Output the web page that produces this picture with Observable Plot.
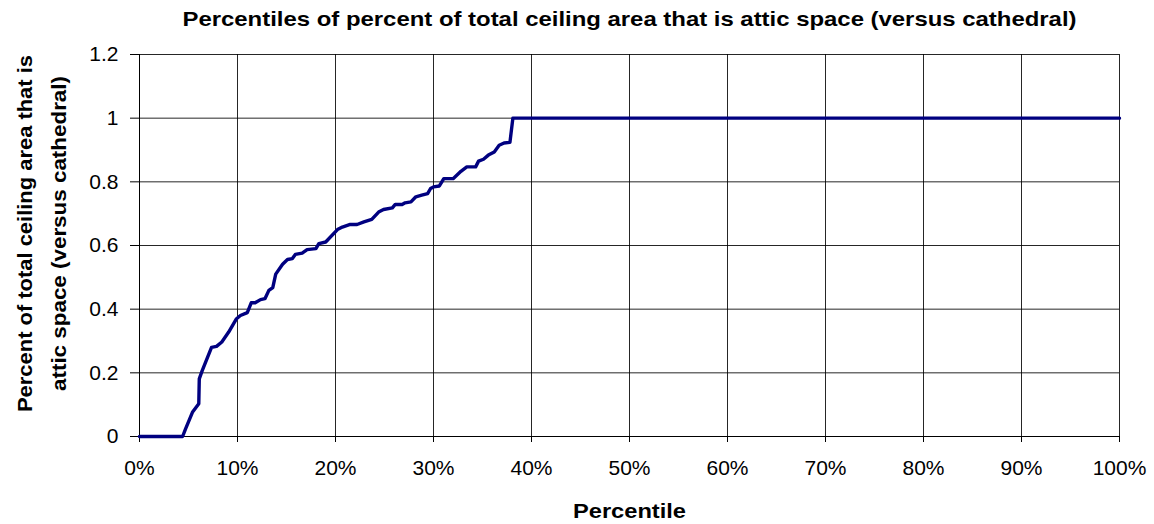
<!DOCTYPE html>
<html>
<head>
<meta charset="utf-8">
<script src="https://cdn.jsdelivr.net/npm/d3@7"></script>
<script src="https://cdn.jsdelivr.net/npm/@observablehq/plot@0.6"></script>
<style>
  html, body { margin: 0; padding: 0; background: #fff; }
  #chart svg { display: block; }
</style>
</head>
<body>
<div id="chart"></div>
<script>
const titleText = "Percentiles of percent of total ceiling area that is attic space (versus cathedral)";
const xLabel = "Percentile";
const yLabelLines = ["Percent of total ceiling area that is", "attic space (versus cathedral)"];

// percentile (%) and value pairs
const percentiles = [0, 4.4, 4.7, 5.4, 6.05, 6.1, 6.4, 7.35, 7.86, 8.4, 9.1, 9.9, 10.3, 11.0, 11.4, 11.8, 12.35, 12.8, 13.2, 13.6, 13.9, 14.6, 15.1, 15.6, 15.9, 16.6, 17.1, 18.0, 18.3, 19.0, 20.2, 20.7, 21.5, 22.2, 22.9, 23.7, 24.4, 24.9, 25.8, 26.1, 26.8, 27.1, 27.7, 28.2, 28.8, 29.4, 29.7, 30.0, 30.6, 31.05, 32.0, 32.8, 33.4, 34.3, 34.6, 35.1, 35.6, 36.2, 36.7, 37.2, 37.8, 38.1, 100];
const values = [0, 0, 0.024, 0.076, 0.103, 0.181, 0.207, 0.28, 0.283, 0.297, 0.328, 0.37, 0.38, 0.389, 0.42, 0.42, 0.43, 0.433, 0.459, 0.468, 0.51, 0.541, 0.556, 0.559, 0.572, 0.576, 0.587, 0.59, 0.606, 0.611, 0.65, 0.658, 0.666, 0.666, 0.674, 0.682, 0.705, 0.713, 0.718, 0.729, 0.729, 0.734, 0.737, 0.753, 0.758, 0.763, 0.779, 0.784, 0.787, 0.81, 0.81, 0.833, 0.847, 0.847, 0.865, 0.871, 0.884, 0.894, 0.915, 0.922, 0.924, 1, 1];
const xTicks = [0, 0.1, 0.2, 0.3, 0.4, 0.5, 0.6, 0.7, 0.8, 0.9, 1];
const yTicks = [0, 0.2, 0.4, 0.6, 0.8, 1, 1.2];
const xTickLabels = ["0%", "10%", "20%", "30%", "40%", "50%", "60%", "70%", "80%", "90%", "100%"];
const yTickLabels = ["0", "0.2", "0.4", "0.6", "0.8", "1", "1.2"];

const data = percentiles.map((p, i) => ({x: p / 100, y: values[i]}));
const font = "Liberation Sans, Arial, sans-serif";

const chart = Plot.plot({
  width: 1154,
  height: 524,
  marginLeft: 139,
  marginRight: 35,
  marginTop: 54,
  marginBottom: 88,
  style: {fontFamily: font, fontSize: "21px", color: "#000", background: "#fff"},
  x: {domain: [0, 1], label: null},
  y: {domain: [0, 1.2], label: null},
  marks: [
    Plot.gridX(xTicks, {stroke: "#000", strokeOpacity: 0.85, strokeWidth: 1}),
    Plot.gridY(yTicks, {stroke: "#000", strokeOpacity: 0.85, strokeWidth: 1}),
    Plot.ruleX([0], {stroke: "#000", strokeWidth: 1}),
    Plot.ruleY([0], {stroke: "#000", strokeWidth: 1}),
    Plot.axisX(xTicks, {tickSize: 6, tickPadding: 18, fontSize: 21, stroke: "#000", label: null,
      tickFormat: d => xTickLabels[xTicks.indexOf(d)]}),
    Plot.axisY(yTicks, {tickSize: 9, tickPadding: 12, fontSize: 21, stroke: "#000", label: null,
      tickFormat: d => yTickLabels[yTicks.indexOf(d)]}),
    Plot.line(data, {x: "x", y: "y", stroke: "#000080", strokeWidth: 3.4, strokeLinejoin: "round"}),
    Plot.text([titleText], {frameAnchor: "top", lineAnchor: "middle", dy: -35, fontSize: 21, fontWeight: "bold", fill: "#000"}),
    Plot.text([xLabel], {frameAnchor: "bottom", lineAnchor: "middle", dy: 75, fontSize: 21, fontWeight: "bold", fill: "#000"}),
    Plot.text([yLabelLines[0]], {frameAnchor: "left", lineAnchor: "middle", textAnchor: "middle", dx: -114, dy: -12, rotate: -90, fontSize: 21, fontWeight: "bold", fill: "#000"}),
    Plot.text([yLabelLines[1]], {frameAnchor: "left", lineAnchor: "middle", textAnchor: "middle", dx: -80, dy: -12, rotate: -90, fontSize: 21, fontWeight: "bold", fill: "#000"})
  ]
});
document.getElementById("chart").appendChild(chart);

// stretch bold labels to the lengths they span in the reference
const targetLengths = new Map([
  [titleText, 894],
  [xLabel, 113],
  [yLabelLines[0], 357],
  [yLabelLines[1], 315]
]);
d3.select(chart).selectAll("text").each(function () {
  const t = this.textContent;
  if (targetLengths.has(t)) {
    this.setAttribute("textLength", targetLengths.get(t));
    this.setAttribute("lengthAdjust", "spacingAndGlyphs");
  }
});
</script>
</body>
</html>
